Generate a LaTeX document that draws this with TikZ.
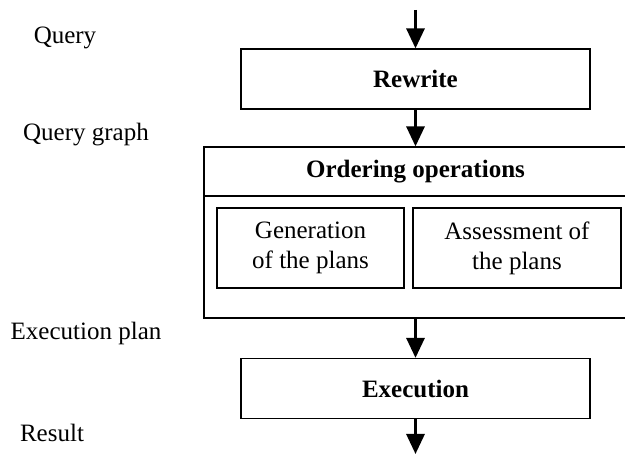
\documentclass[tikz,border=0pt]{standalone}
\usepackage{fontspec}
\setmainfont{Liberation Serif}
\usetikzlibrary{arrows.meta}
\usetikzlibrary{positioning}

\tikzset{
  stage/.style={draw, line width=1.2pt, minimum width=349pt, minimum height=60pt,
    font=\fontsize{25}{30}\selectfont\bfseries},
  subtask/.style={draw, line width=1.2pt, minimum height=80pt, align=center,
    font=\fontsize{25}{30}\selectfont},
  flow/.style={-{Triangle[length=20pt,width=18pt]}, line width=3pt},
  side/.style={font=\fontsize{25}{30}\selectfont}
}

\begin{document}
\begin{tikzpicture}[x=1pt, y=-1pt]
      \useasboundingbox (0, 0) rectangle (625, 454);

      \node [stage] (rewrite) at (415.5, 79) {Rewrite};
      \node [draw, line width=1.2pt, minimum width=436pt, minimum height=171pt] (order) at (422, 232.5) {};
      \node [side] (ordtitle) at (415.5, 172) {\bfseries Ordering operations};
      \coordinate (cut) at (0, 196);
      \draw [line width=1.2pt] (order.west |- cut) -- (order.east |- cut);
      \node [subtask, minimum width=187pt] (gen) at (310.5, 248) {Generation\\of the plans};
      \node [subtask, minimum width=208pt] (assess) at (517, 248) {Assessment of\\the plans};
      \node [stage] (exec) at (415.5, 388.5) {Execution};

      \coordinate (in) at (415.5, 10);
      \coordinate (out) at (415.5, 454);
      \draw [flow] (in) -- (rewrite);
      \draw [flow] (rewrite) -- (rewrite |- order.north);
      \draw [flow] (rewrite |- order.south) -- (exec);
      \draw [flow] (exec) -- (out);

      \node [side] (query) at (65, 38) {Query};
      \node [side] (qgraph) at (86, 135) {Query graph};
      \node [side] (plan) at (86, 333) {Execution plan};
      \node [side] (result) at (52, 433) {Result};
    \end{tikzpicture}
\end{document}
